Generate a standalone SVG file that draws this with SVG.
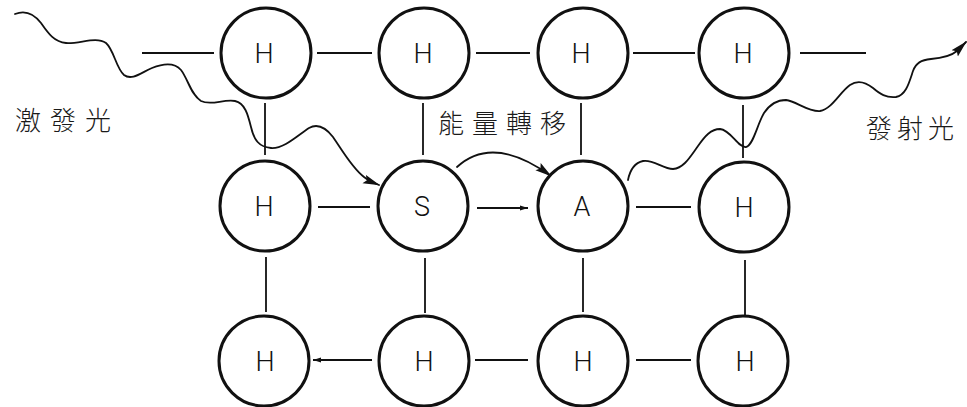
<svg xmlns="http://www.w3.org/2000/svg" width="967" height="407" viewBox="0 0 967 407">
  <style>
    .atom { fill: #ffffff; stroke: #111111; stroke-width: 3; }
    .sym { font-family: Roboto, "Liberation Sans", Arial, sans-serif; font-weight: 300; font-size: 27px; fill: #111111; text-anchor: middle; }
    .bond { stroke: #111111; stroke-width: 1.8; fill: none; }
    .wave { stroke: #111111; stroke-width: 1.8; fill: none; stroke-linecap: round; }
    .label { font-family: "Noto Sans CJK TC", "Noto Sans CJK SC", sans-serif; font-weight: 300; font-size: 26px; fill: #1a1a1a; }
  </style>
  <defs>
    <marker id="head" viewBox="0 0 17 10" refX="16" refY="5" markerWidth="17" markerHeight="10" markerUnits="userSpaceOnUse" orient="auto">
      <path d="M0,0.5 L17,5 L0,9.5 L3,5 Z" fill="#111111"/>
    </marker>
    <marker id="tip" viewBox="0 0 8 6" refX="8" refY="3" markerWidth="8" markerHeight="6" markerUnits="userSpaceOnUse" orient="auto">
      <path d="M0,0.5 L8,3 L0,5.5 Z" fill="#111111"/>
    </marker>
  </defs>

  <!-- lattice bonds and light paths -->
  <g id="connectors">
    <!-- row 1 -->
    <line class="bond" x1="142" y1="53" x2="214" y2="53"/>
    <line class="bond" x1="317" y1="53" x2="372" y2="53"/>
    <line class="bond" x1="476" y1="53" x2="530" y2="53"/>
    <line class="bond" x1="633" y1="53" x2="695" y2="53"/>
    <line class="bond" x1="800" y1="53" x2="866" y2="53"/>
    <!-- row 2 -->
    <line class="bond" x1="318" y1="207" x2="370" y2="207"/>
    <line class="bond" x1="477" y1="208" x2="528" y2="208" marker-end="url(#tip)"/>
    <line class="bond" x1="636" y1="207" x2="691" y2="207"/>
    <!-- row 3 -->
    <line class="bond" x1="372" y1="360" x2="313" y2="360" marker-end="url(#tip)"/>
    <line class="bond" x1="475" y1="360" x2="528" y2="360"/>
    <line class="bond" x1="636" y1="360" x2="691" y2="360"/>
    <!-- verticals, rows 1-2 -->
    <line class="bond" x1="265" y1="103" x2="265" y2="155"/>
    <line class="bond" x1="423" y1="103" x2="423" y2="155"/>
    <line class="bond" x1="581" y1="103" x2="581" y2="155"/>
    <line class="bond" x1="743" y1="105" x2="743" y2="158"/>
    <!-- verticals, rows 2-3 -->
    <line class="bond" x1="266" y1="257" x2="266" y2="312"/>
    <line class="bond" x1="425" y1="258" x2="425" y2="313"/>
    <line class="bond" x1="583" y1="258" x2="583" y2="312"/>
    <line class="bond" x1="745" y1="260" x2="745" y2="315"/>

    <!-- incoming excitation light -->
    <path class="wave" marker-end="url(#head)" d="M15,14 C25,10 34,14 41,23 C48,33 54,42 66,43 C80,44 96,36 106,43 C114,50 116,68 124,75 C132,81 142,72 152,68 C162,64 174,62 181,70 C188,79 191,95 201,101 C211,106 223,99 235,101 C245,103 248,115 251,127 C254,140 259,147 271,148 C284,149 298,135 309,128 C318,123 326,128 333,137 C342,150 352,168 364,177 C369,181 374,183 379,185"/>

    <!-- energy transfer S to A -->
    <path class="wave" marker-end="url(#head)" d="M457,167 Q493,134 551,176"/>

    <!-- outgoing emitted light -->
    <path class="wave" marker-end="url(#head)" d="M628,180 C630,170 634,163 643,161 C653,159 663,169 673,169 C684,168 690,157 698,146 C705,136 711,129 720,129 C731,130 738,148 746,147 C753,146 757,125 764,113 C770,104 777,100 786,100 C796,101 808,112 820,111 C832,109 840,92 850,85 C856,81 864,81 873,88 C880,94 886,98 896,97 C906,95 909,83 913,71 C916,63 921,60 931,59 C943,58 951,56 957,51 C961,48 963,45 966,42"/>
  </g>

  <!-- row 1 -->
  <g id="h11"><circle class="atom" cx="266" cy="53" r="45"/><text class="sym" x="264" y="63">H</text></g>
  <g id="h12"><circle class="atom" cx="424" cy="53" r="45"/><text class="sym" x="423" y="63">H</text></g>
  <g id="h13"><circle class="atom" cx="583" cy="53" r="45"/><text class="sym" x="581" y="63">H</text></g>
  <g id="h14"><circle class="atom" cx="744" cy="53" r="45"/><text class="sym" x="743" y="63">H</text></g>
  <!-- row 2 -->
  <g id="h21"><circle class="atom" cx="265" cy="206" r="45"/><text class="sym" x="264" y="216">H</text></g>
  <g id="s"><circle class="atom" cx="423" cy="206" r="45"/><text class="sym" x="422" y="216">S</text></g>
  <g id="a"><circle class="atom" cx="583" cy="206" r="45"/><text class="sym" x="582" y="216">A</text></g>
  <g id="h24"><circle class="atom" cx="744" cy="207" r="45"/><text class="sym" x="744" y="217">H</text></g>
  <!-- row 3 -->
  <g id="h31"><circle class="atom" cx="264" cy="361" r="45"/><text class="sym" x="265" y="371">H</text></g>
  <g id="h32"><circle class="atom" cx="424" cy="361" r="45"/><text class="sym" x="424" y="371">H</text></g>
  <g id="h33"><circle class="atom" cx="583" cy="361" r="45"/><text class="sym" x="583" y="371">H</text></g>
  <g id="h34"><circle class="atom" cx="743" cy="361" r="45"/><text class="sym" x="745" y="371">H</text></g>

  <!-- labels -->
  <g id="labels">
    <text class="label" x="15" y="130" letter-spacing="9">激發光</text>
    <text class="label" x="438" y="133" font-size="27" letter-spacing="8">能量轉移</text>
    <text class="label" x="866" y="138" letter-spacing="5">發射光</text>
  </g>
</svg>
